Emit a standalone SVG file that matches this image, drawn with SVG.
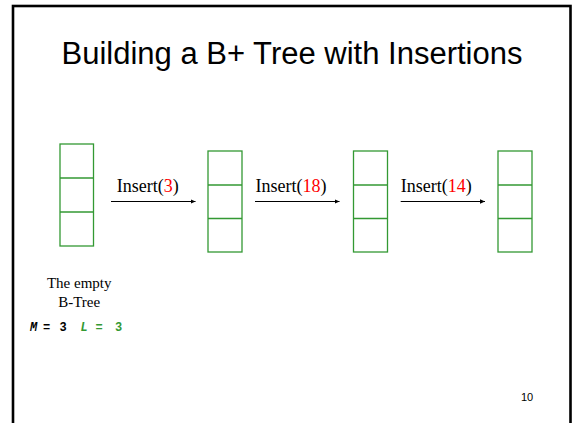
<svg xmlns="http://www.w3.org/2000/svg" width="576" height="423" viewBox="0 0 576 423">
<defs>
<style>
.box{fill:none;stroke:#339933;stroke-width:1.3}
.div{stroke:#339933;stroke-width:1.3}
.arr{stroke:#000;stroke-width:1;fill:none}
.lbl{font-family:"Liberation Serif","Times New Roman",serif;font-size:18px;fill:#000}
.red{fill:#ff0000}
.cap{font-family:"Liberation Serif","Times New Roman",serif;font-size:15px;fill:#000}
.mono{font-family:"Liberation Mono","Courier New",monospace;font-size:12px;font-weight:bold}
</style>
<marker id="ah" markerWidth="6" markerHeight="6" refX="5" refY="3" orient="auto" markerUnits="userSpaceOnUse">
<path d="M0,0.8 L5,3 L0,5.2 Z" fill="#000"/>
</marker>
</defs>
<rect x="0" y="0" width="576" height="423" fill="#fff"/>
<rect x="13" y="6" width="557.5" height="430" fill="none" stroke="#000" stroke-width="2.6"/>
<text x="292" y="64.3" text-anchor="middle" font-family="'Liberation Sans',Arial,sans-serif" font-size="31" fill="#000">Building a B+ Tree with Insertions</text>

<g id="node1">
<rect class="box" x="60" y="144" width="33.5" height="102"/>
<line class="div" x1="60" y1="178" x2="93.5" y2="178"/>
<line class="div" x1="60" y1="212" x2="93.5" y2="212"/>
</g>
<g id="node2">
<rect class="box" x="208" y="151" width="34" height="101"/>
<line class="div" x1="208" y1="185" x2="242" y2="185"/>
<line class="div" x1="208" y1="218.5" x2="242" y2="218.5"/>
</g>
<g id="node3">
<rect class="box" x="353.5" y="151" width="34" height="101"/>
<line class="div" x1="353.5" y1="185" x2="387.5" y2="185"/>
<line class="div" x1="353.5" y1="218.5" x2="387.5" y2="218.5"/>
</g>
<g id="node4">
<rect class="box" x="498" y="151" width="34" height="101"/>
<line class="div" x1="498" y1="185" x2="532" y2="185"/>
<line class="div" x1="498" y1="218.5" x2="532" y2="218.5"/>
</g>

<g id="connectors">
<line class="arr" x1="111" y1="201.5" x2="195.5" y2="201.5" marker-end="url(#ah)"/>
<line class="arr" x1="255" y1="201.5" x2="339.5" y2="201.5" marker-end="url(#ah)"/>
<line class="arr" x1="400.7" y1="201.5" x2="485" y2="201.5" marker-end="url(#ah)"/>
<text class="lbl" x="116.7" y="192.3">Insert(<tspan class="red">3</tspan>)</text>
<text class="lbl" x="255.5" y="191.8">Insert(<tspan class="red">18</tspan>)</text>
<text class="lbl" x="400.7" y="191.8">Insert(<tspan class="red">14</tspan>)</text>
</g>

<g id="caption">
<text class="cap" x="79.2" y="288.3" text-anchor="middle">The empty</text>
<text class="cap" x="79.2" y="306.7" text-anchor="middle">B-Tree</text>
<text class="mono" y="330.7"><tspan x="30" font-style="italic" fill="#000">M</tspan><tspan x="43" fill="#000">=</tspan><tspan x="59.5" fill="#000">3</tspan><tspan x="80.5" font-style="italic" fill="#339933">L</tspan><tspan x="95.5" fill="#339933">=</tspan><tspan x="115" fill="#339933">3</tspan></text>
</g>

<text x="527" y="400.7" text-anchor="middle" font-family="'Liberation Sans',Arial,sans-serif" font-size="11" fill="#000">10</text>
</svg>
